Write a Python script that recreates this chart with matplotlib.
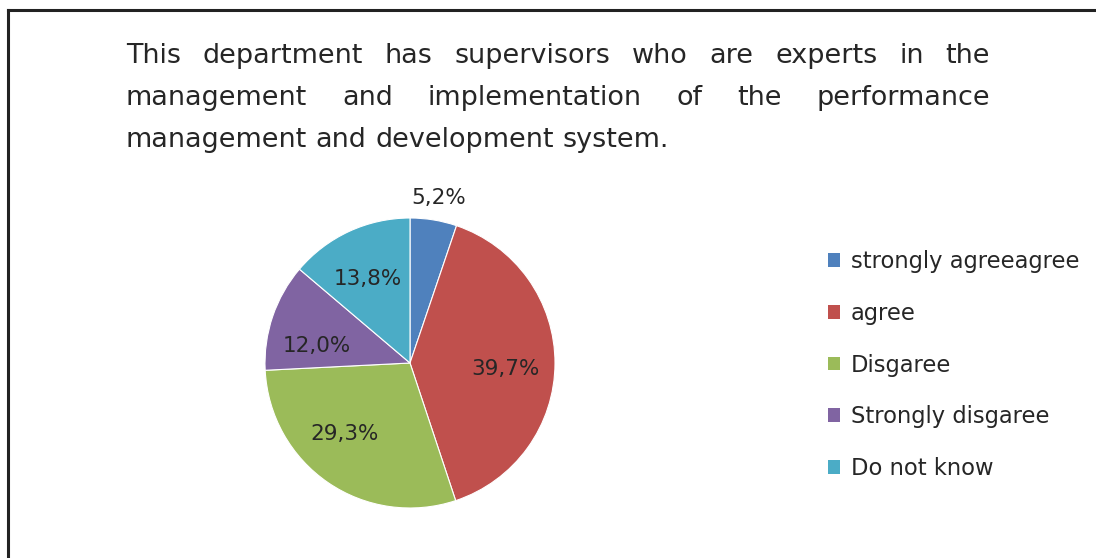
import matplotlib
matplotlib.use('Agg')
import matplotlib.pyplot as plt
from matplotlib.patches import Patch

matplotlib.rcParams['font.family'] = ['DejaVu Sans']

# 数据
categories = ['strongly agreeagree', 'agree', 'Disgaree', 'Strongly disgaree', 'Do not know']
values = [5.2, 39.7, 29.3, 12.0, 13.8]
colors = ['#4F81BD', '#C0504D', '#9BBB59', '#8064A2', '#4BACC6']
title_lines = [
    'This department has supervisors who are experts in the',
    'management and implementation of the performance',
    'management and development system.',
]
# 标签位置 (以饼图半径为单位)
label_pos = [(0.20, 1.14), (0.66, -0.04), (-0.45, -0.49), (-0.64, 0.12), (-0.29, 0.58)]

W, H = 1096, 558
fig = plt.figure(figsize=(W / 100, H / 100), dpi=100)
text_color = '#262626'

# 边框
fig.add_artist(plt.Line2D([8 / W, 8 / W], [0, 1 - 10 / H], color='#222222', lw=2.2))
fig.add_artist(plt.Line2D([8 / W, 1], [1 - 10 / H, 1 - 10 / H], color='#222222', lw=2.2))

# 两端对齐的标题
renderer = fig.canvas.get_renderer()
left, right = 126, 990
baselines = [63, 105, 147]
# 按最后一行宽度 (约 541 px) 定字号
probe = fig.text(0, 0, title_lines[-1], fontsize=20)
title_size = 20 * 541 / probe.get_window_extent(renderer).width
probe.remove()
for i, line in enumerate(title_lines):
    words = line.split(' ')
    arts = [fig.text(0, 0, w, fontsize=title_size, color=text_color, va='baseline') for w in words]
    widths = [a.get_window_extent(renderer).width for a in arts]
    if i < len(title_lines) - 1:
        gap = (right - left - sum(widths)) / (len(words) - 1)
    else:
        gap = 0.318 * title_size * 100 / 72
    x = left
    for a, w in zip(arts, widths):
        a.set_position((x / W, 1 - baselines[i] / H))
        x += w + gap

# 饼图
cx, cy, R = 410, 363, 145
ax = fig.add_axes([(cx - R) / W, (H - cy - R) / H, 2 * R / W, 2 * R / H])
wedges, _ = ax.pie(values, colors=colors, startangle=90, counterclock=False,
                   wedgeprops=dict(edgecolor='white', linewidth=0.8))
ax.set_xlim(-1, 1)
ax.set_ylim(-1, 1)
ax.set_aspect('auto')
ax.axis('off')
for v, (lx, ly) in zip(values, label_pos):
    ax.text(lx, ly, f'{v:.1f}%'.replace('.', ','), ha='center', va='center',
            fontsize=15.5, color=text_color, clip_on=False)

# 图例
handles = [Patch(facecolor=c, edgecolor='none') for c in colors]
fig.legend(handles, categories, loc='upper left', bbox_to_anchor=(828 / W, 1 - 250 / H),
           frameon=False, prop={'size': 16.3},
           handlelength=0.55, handleheight=0.55,
           handletextpad=0.45, labelspacing=1.27, borderpad=0, borderaxespad=0,
           labelcolor=text_color)

fig.savefig('out.png', dpi=100)
